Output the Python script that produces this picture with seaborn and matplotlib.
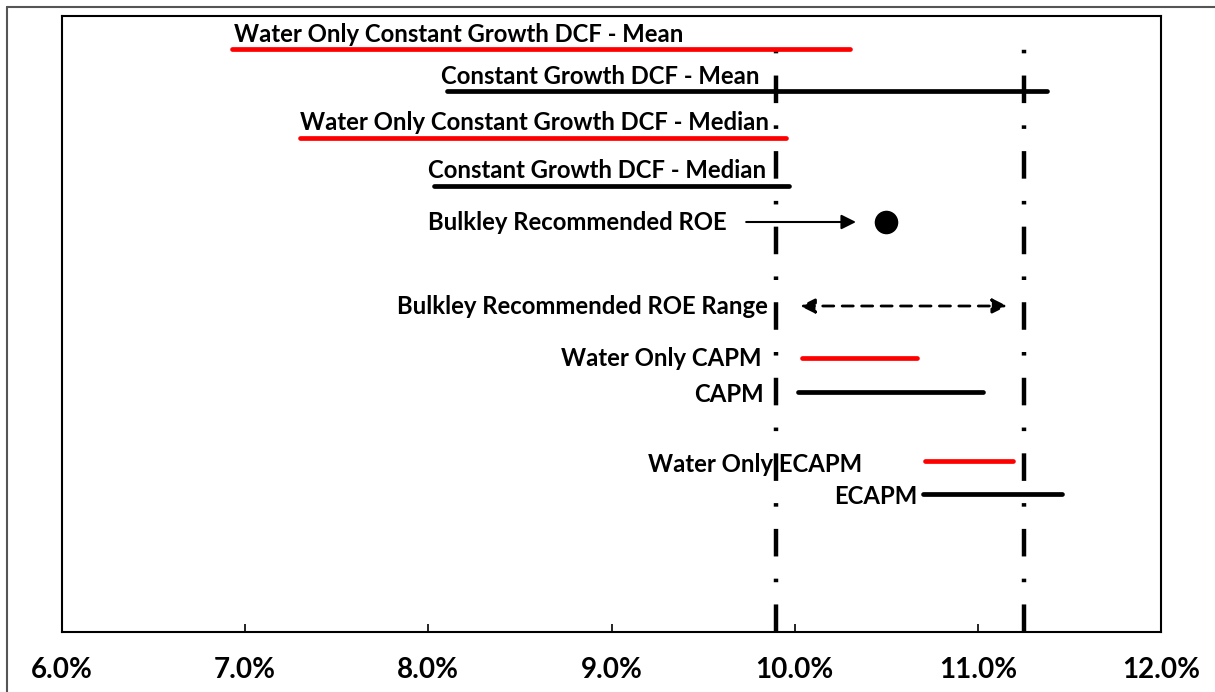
import matplotlib
matplotlib.use("Agg")
import matplotlib.pyplot as plt
from matplotlib.lines import Line2D
import seaborn as sns
import pandas as pd

# データ (ROE %)
labels = ['Water Only Constant Growth DCF - Mean', 'Constant Growth DCF - Mean',
          'Water Only Constant Growth DCF - Median', 'Constant Growth DCF - Median',
          'Water Only CAPM', 'CAPM', 'Water Only ECAPM', 'ECAPM']
low = [6.93, 8.10, 7.30, 8.03, 10.04, 10.02, 10.71, 10.70]
high = [10.30, 11.38, 9.95, 9.97, 10.67, 11.03, 11.19, 11.46]
kind = ['water', 'all', 'water', 'all', 'water', 'all', 'water', 'all']
roe = 10.50
roe_range = [10.03, 11.16]
vlines = [9.90, 11.25]
xticks = [6.0, 7.0, 8.0, 9.0, 10.0, 11.0, 12.0]

# レイアウト (y は下端からのピクセル)
row_y = [583, 541, 494, 446, 274, 240, 171, 138]
label_top = [True, True, True, True, False, False, False, False]
label_x = [6.94, 8.07, 7.30, 8.00, 9.82, 9.83, 10.37, 10.67]
label_dy = [14, 15, 16, 16, -1, -3, -3, -2]
roe_y = 410
range_y = 326
fs = 17.2

rows = []
for i in range(len(labels)):
    rows.append({'row': i, 'x': low[i], 'y': row_y[i], 'kind': kind[i]})
    rows.append({'row': i, 'x': high[i], 'y': row_y[i], 'kind': kind[i]})
df = pd.DataFrame(rows)

sns.set_theme(style='white')
plt.rcParams['font.family'] = ['Lato', 'DejaVu Sans']
plt.rcParams['font.weight'] = 'bold'
plt.rcParams['text.color'] = 'black'

fig = plt.figure(figsize=(12.15, 6.92), dpi=100)
ax = fig.add_axes([62/1215, 60/692, 1099/1215, 616/692])

sns.lineplot(data=df, x='x', y='y', hue='kind', units='row', estimator=None, sort=False,
             palette={'water': '#ff0000', 'all': 'black'}, lw=3.4, legend=False, ax=ax,
             solid_capstyle='round')

for i, lab in enumerate(labels):
    ax.text(label_x[i], row_y[i] + label_dy[i], lab,
            ha='left' if label_top[i] else 'right', va='center',
            fontsize=fs, fontweight='bold', color='black')

# Bulkley ROE
sns.scatterplot(x=[roe], y=[roe_y], s=340, color='black', ax=ax, zorder=5)
ax.text(9.63, roe_y, 'Bulkley Recommended ROE', ha='right', va='center',
        fontsize=fs, fontweight='bold', color='black')
ax.annotate('', xy=(10.35, roe_y), xytext=(9.72, roe_y),
            arrowprops=dict(arrowstyle='-|>', color='black', lw=1.5, mutation_scale=22))

# Bulkley range
ax.text(9.855, range_y, 'Bulkley Recommended ROE Range', ha='right', va='center',
        fontsize=fs, fontweight='bold', color='black')
ax.annotate('', xy=(roe_range[1], range_y), xytext=(roe_range[0], range_y),
            arrowprops=dict(arrowstyle='<|-|>', color='black', lw=2, ls=(0, (4, 3)),
                            mutation_scale=22, shrinkA=0, shrinkB=0))

for v in vlines:
    ax.axvline(v, ymin=0, ymax=0.98, color='black', lw=3.2,
               ls=(0, (6.2, 5.0, 0.8, 5.0)), dash_capstyle='butt', zorder=1)

ax.set_xlim(6.0, 12.0)
ax.set_ylim(0, 616)
ax.set_xticks(xticks)
ax.set_xticklabels(['%.1f%%' % t for t in xticks])
ax.set_yticks([])
ax.set_xlabel('')
ax.set_ylabel('')
ax.tick_params(axis='x', direction='in', length=6, width=1.2, pad=18, labelsize=20,
               bottom=True, colors='black')
for lab in ax.get_xticklabels():
    lab.set_fontweight('bold')
for s in ax.spines.values():
    s.set_color('black')
    s.set_linewidth(1.5)

# 外枠
fig.add_artist(Line2D([7/1215, 1], [1 - 7/692, 1 - 7/692], color='#555555', lw=1.5))
fig.add_artist(Line2D([7/1215, 7/1215], [0, 1 - 7/692], color='#555555', lw=1.5))

fig.savefig('out.png', dpi=100, facecolor='white')
